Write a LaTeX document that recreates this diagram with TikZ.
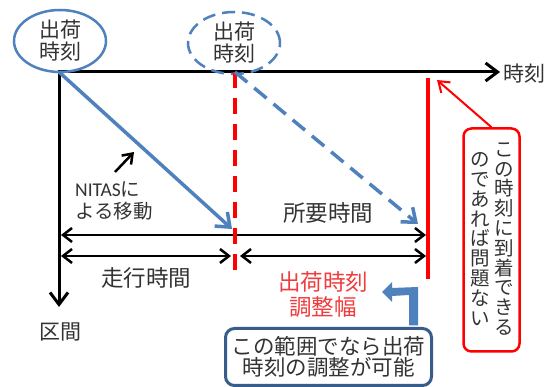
\documentclass[tikz,border=0pt]{standalone}
\usepackage{fontspec}
\newfontfamily\jpf{Noto Sans CJK JP}
\newfontfamily\latf{Carlito}
\usetikzlibrary{arrows.meta,calc,shapes.geometric}
\definecolor{blueL}{HTML}{4F81BD}
\definecolor{blueD}{HTML}{385D8A}
\definecolor{redL}{HTML}{FF0000}
\definecolor{redT}{HTML}{F03C3C}
\definecolor{txt}{HTML}{333333}
\begin{document}
\begin{tikzpicture}[x=1pt,y=-1pt,
  jp/.style={font=\jpf\fontsize{21}{22}\selectfont, text=txt, inner sep=0pt, align=center},
  bigjp/.style={jp, font=\jpf\fontsize{22.5}{25}\selectfont},
  ellnode/.style={jp, ellipse, draw=blueL, line width=2.5pt, minimum width=92pt, minimum height=62pt},
  axisline/.style={line width=3pt, line join=miter, {Straight Barb[length=12pt,width=18pt]}-{Straight Barb[length=12pt,width=18pt]}},
  dimline/.style={line width=2.5pt, {Straight Barb[length=9pt,width=14pt]}-{Straight Barb[length=9pt,width=14pt]}},
  bluearr/.style={blueL, line width=3.5pt, -{Straight Barb[length=12pt,width=19pt]}},
  redvert/.style={redL, line width=4pt},
  vtext/.style={jp, font=\jpf\fontsize{19.5}{19.8}\selectfont},
]
\useasboundingbox (0,0) rectangle (560,387);
\fill[white] (0,0) rectangle (560,387);

% coordinates
\coordinate (O) at (59,72);
\coordinate (tEnd) at (500,72);
\coordinate (sEnd) at (59,307);
\coordinate (d1) at (235,72);
\coordinate (d2) at (235,277);
\coordinate (r1) at (428,78);
\coordinate (r2) at (428,279);
\coordinate (tip1) at (232,229);
\coordinate (tip2) at (418,224);
\coordinate (L1) at (61,235);
\coordinate (R1) at (426,235);
\coordinate (L2) at (61,256);
\coordinate (M2a) at (231,256);
\coordinate (M2b) at (240,256);
\coordinate (R2) at (426,256);
\coordinate (na1) at (115,172);
\coordinate (na2) at (134,152);

% axes
\draw[axisline] (tEnd) -- (O) -- (sEnd);
\node[jp, anchor=west] (tlab) at (503,74) {時刻};
\node[jp] (slab) at (60,332) {区間};

% ellipses
\node[ellnode] (ship1) at (60,41) {出荷\\時刻};
\node[ellnode, dash pattern=on 13pt off 7pt] (ship2) at (234,43) {出荷\\時刻};

% dimension arrows
\draw[dimline] (L1) -- (R1);
\draw[dimline] (L2) -- (M2a);
\draw[dimline] (M2b) -- (R2);
\node[bigjp] (req) at (328,213) {所要時間};
\node[bigjp] (run) at (146,278) {走行時間};

% red verticals
\draw[redvert, dash pattern=on 16pt off 10pt] (d1) -- (d2);
\draw[redvert] (r1) -- (r2);

% blue movement arrows
\draw[bluearr] (O) -- (tip1);
\draw[bluearr, dash pattern=on 16pt off 9pt] (d1) -- (tip2);

% NITAS label
\node[jp, font=\jpf\fontsize{19.5}{22}\selectfont, align=left, anchor=west] (nitas) at (75,201) {{\latf NITAS}に\\よる移動};
\draw[line width=2.5pt, -{Straight Barb[length=9pt,width=13pt]}] (na1) -- (na2);

% adjustment width label
\node[bigjp, text=redT] (adj) at (323,295) {出荷時刻\\調整幅};

% blue note box
\node[jp, font=\jpf\fontsize{21.5}{21}\selectfont, draw=blueD, line width=3pt, rounded corners=9pt,
      minimum width=206pt, minimum height=57pt, fill=white] (note) at (328.5,357) {この範囲でなら出荷\\時刻の調整が可能};
\fill[blueL] ($(note.north east)+(-24,-1.5)$) -- ($(note.north east)+(-24,-32)$) -- (392,296) -- (392,302) -- (382,292) -- (392,282) -- (392,288) -- ($(note.north east)+(-15,-40)$) -- ($(note.north east)+(-15,-1.5)$) -- cycle;

% red condition box
\node[draw=redL, line width=2.5pt, rounded corners=8pt, minimum width=56pt, minimum height=223pt, inner sep=0pt] (cond) at (491.5,240) {};
\node[vtext] (colR) at (504,239) {こ\\の\\時\\刻\\に\\到\\着\\で\\き\\る};
\node[vtext] (colL) at (480,239) {の\\で\\あ\\れ\\ば\\問\\題\\な\\い};
\coordinate (rtip) at (437,80);
\draw[redL, line width=2pt, -{Straight Barb[length=10pt,width=14pt]}] (cond.north) -- (rtip);
\end{tikzpicture}
\end{document}
